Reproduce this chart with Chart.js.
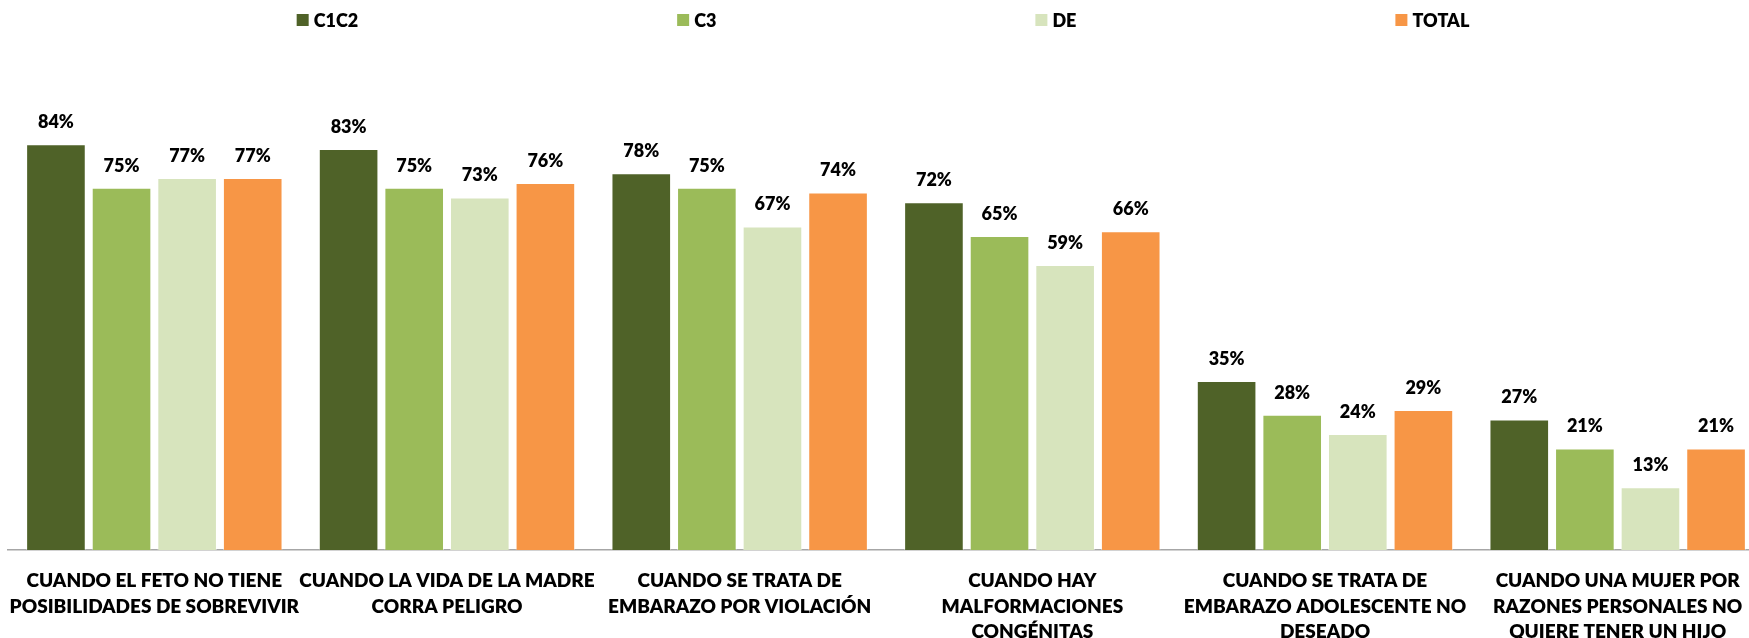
<!DOCTYPE html>
<html>
<head>
<meta charset="utf-8">
<script src="https://cdn.jsdelivr.net/npm/chart.js@4.4.1/dist/chart.umd.min.js"></script>
<style>
  body { margin: 0; background: #fff; }
  #wrap { width: 1749px; height: 638px; overflow: hidden; position: relative; }
  #chart { display: block; }
</style>
</head>
<body>
<div id="wrap"><canvas id="chart" width="1768" height="660"></canvas></div>
<script>
let categories = [
    ["CUANDO EL FETO NO TIENE", "POSIBILIDADES DE SOBREVIVIR"],
    ["CUANDO LA VIDA DE LA MADRE", "CORRA PELIGRO"],
    ["CUANDO SE TRATA DE", "EMBARAZO POR VIOLACIÓN"],
    ["CUANDO HAY", "MALFORMACIONES", "CONGÉNITAS"],
    ["CUANDO SE TRATA DE", "EMBARAZO ADOLESCENTE NO", "DESEADO"],
    ["CUANDO UNA MUJER POR", "RAZONES PERSONALES NO", "QUIERE TENER UN HIJO"]
];
let seriesNames = ["C1C2", "C3", "DE", "TOTAL"];
let c1c2 = [84, 83, 78, 72, 35, 27];
let c3 = [75, 75, 75, 65, 28, 21];
let de = [77, 73, 67, 59, 24, 13];
let total = [77, 76, 74, 66, 29, 21];
let colors = ["#4F6228", "#9BBB59", "#D7E4BD", "#F79646"];

// labels on top of each bar
const valueLabels = {
    id: "valueLabels",
    afterDatasetsDraw(chart) {
        let ctx = chart.ctx;
        ctx.save();
        ctx.font = "800 18px Lato";
        ctx.fillStyle = "#000";
        ctx.textAlign = "center";
        ctx.textBaseline = "middle";
        chart.data.datasets.forEach((ds, i) => {
            chart.getDatasetMeta(i).data.forEach((bar, j) => {
                ctx.fillText(ds.data[j] + "%", bar.x, bar.y - 22);
            });
        });
        ctx.restore();
    }
};

// legend spread across the top, like the original
const topLegend = {
    id: "topLegend",
    afterDraw(chart) {
        let ctx = chart.ctx;
        let gap = 319;
        let box = 12;
        ctx.save();
        ctx.font = "800 18px Lato";
        ctx.textBaseline = "middle";
        ctx.textAlign = "left";
        let widths = chart.data.datasets.map(ds => box + 5 + ctx.measureText(ds.label).width);
        let full = widths.reduce((a, b) => a + b, 0) + gap * (widths.length - 1);
        let x = 883 - full / 2;
        let y = 20;
        chart.data.datasets.forEach((ds, i) => {
            ctx.fillStyle = ds.backgroundColor;
            ctx.fillRect(x, y - box / 2, box, box);
            ctx.fillStyle = "#000";
            ctx.fillText(ds.label, x + box + 5, y + 1);
            x += widths[i] + gap;
        });
        ctx.restore();
    }
};

function build() {
    let ctx = document.getElementById("chart").getContext("2d");
    let values = [c1c2, c3, de, total];
    new Chart(ctx, {
        type: "bar",
        data: {
            labels: categories,
            datasets: seriesNames.map((name, i) => ({
                label: name,
                data: values[i],
                backgroundColor: colors[i],
                borderColor: "rgba(255,255,255,0.45)",
                borderWidth: 1,
                categoryPercentage: 0.8965,
                barPercentage: 0.909
            }))
        },
        options: {
            responsive: false,
            animation: false,
            devicePixelRatio: 1,
            layout: { padding: { top: 67, left: 8, right: 4, bottom: 10 } },
            plugins: {
                legend: { display: false },
                tooltip: { enabled: false }
            },
            scales: {
                x: {
                    grid: { display: false, drawTicks: false },
                    border: { display: true, color: "#a6a6a6", width: 1.5 },
                    ticks: {
                        color: "#000",
                        padding: 18,
                        maxRotation: 0,
                        autoSkip: false,
                        font: { family: "Lato", weight: "800", size: 19, lineHeight: 1.35 }
                    },
                    // keep the plot full width and the axis line where the original has it
                    afterFit(scale) {
                        scale.paddingLeft = 0;
                        scale.paddingRight = 0;
                        scale.height = 100;
                    }
                },
                y: {
                    display: false,
                    min: 0,
                    max: 100
                }
            }
        },
        plugins: [valueLabels, topLegend]
    });
}

Promise.all([
    document.fonts.load("800 18px Lato"),
    document.fonts.load("bold 18px Lato")
]).then(build, build);
</script>
</body>
</html>
